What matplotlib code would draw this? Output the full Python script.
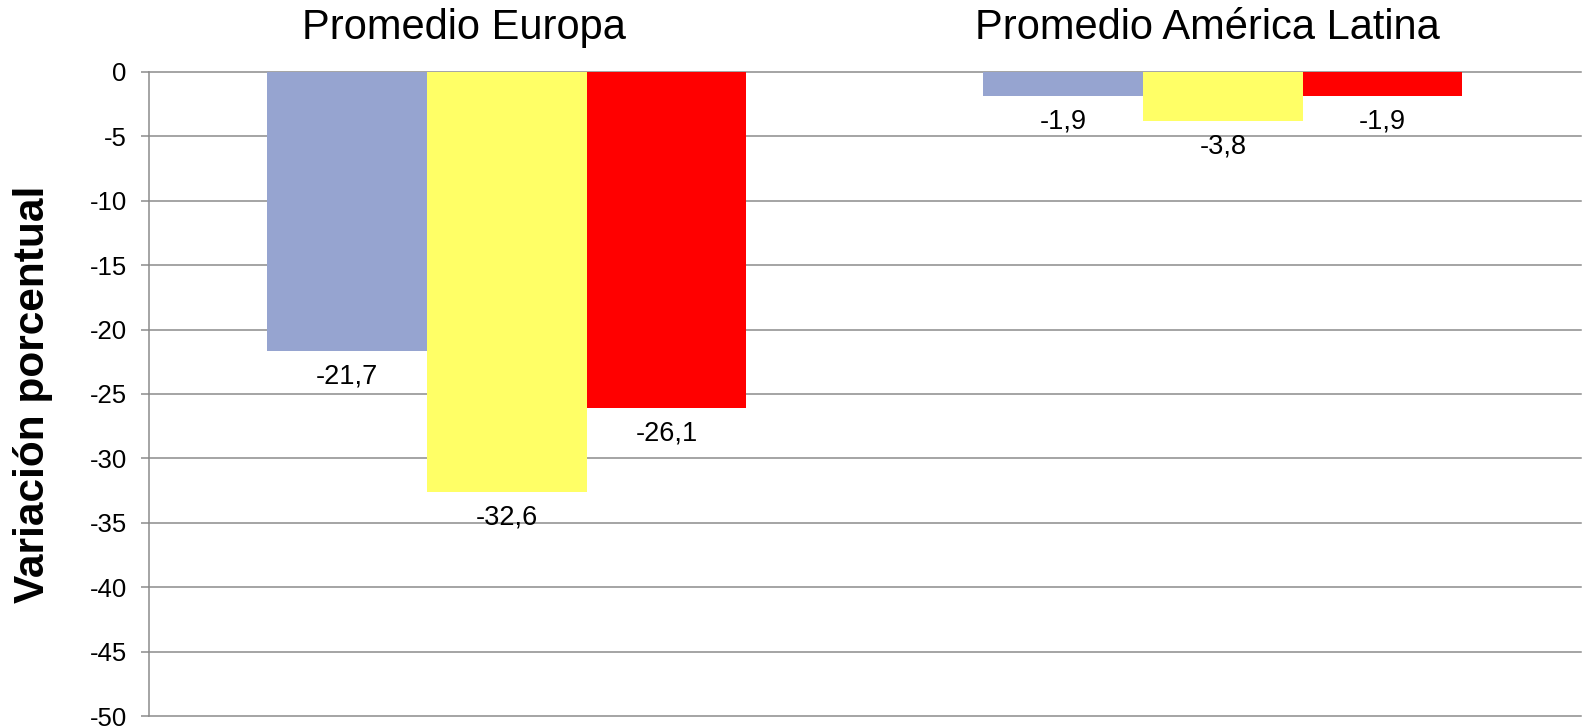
import numpy as np
import matplotlib
matplotlib.use("Agg")
import matplotlib.pyplot as plt
from matplotlib.transforms import ScaledTranslation

plt.rcParams['font.family'] = ['Liberation Sans', 'DejaVu Sans']

# data
categories = ['Promedio Europa', 'Promedio América Latina']
serie_1 = [-21.7, -1.9]
serie_2 = [-32.6, -3.8]
serie_3 = [-26.1, -1.9]
colors = ['#96A4D0', '#FFFF66', '#FF0000']
yticks = [0, -5, -10, -15, -20, -25, -30, -35, -40, -45, -50]

fig = plt.figure(figsize=(15.83, 7.27), dpi=100)
ax = fig.add_axes([0.0941, 0.0151, 0.9046, 0.8859])

x = np.arange(len(categories))
w = 0.223
grid_color = '#8C8C8C'

for i, (vals, c) in enumerate(zip([serie_1, serie_2, serie_3], colors)):
    bars = ax.bar(x + (i - 1) * w, vals, width=w, color=c, zorder=3)
    for b, v in zip(bars, vals):
        ax.annotate(f"{v:.1f}".replace('.', ','),
                    xy=(b.get_x() + b.get_width() / 2, v),
                    xytext=(0, -9), textcoords='offset points',
                    ha='center', va='top', fontsize=19.5, zorder=4)

ax.set_xlim(-0.5, 1.5)
ax.set_ylim(-50, 0)
ax.set_yticks(yticks)
ax.set_yticklabels([str(t) for t in yticks], fontsize=18.5)

ax.xaxis.tick_top()
ax.set_xticks(x)
ax.set_xticklabels(categories, fontsize=30)
ax.tick_params(axis='x', length=0, pad=17)
ax.tick_params(axis='y', length=6, width=1.1, color=grid_color, pad=10)

# the category titles sit a bit left of the group centres in the original
for lab, dx in zip(ax.get_xticklabels(), [-43, -16]):
    lab.set_transform(lab.get_transform() + ScaledTranslation(dx / 100, 0, fig.dpi_scale_trans))

ax.grid(axis='y', color=grid_color, linewidth=1.1, zorder=0)
ax.set_axisbelow(True)
for gl in ax.get_ygridlines():
    gl.set_clip_on(False)

for s in ['top', 'right', 'bottom']:
    ax.spines[s].set_visible(False)
ax.spines['left'].set_color(grid_color)
ax.spines['left'].set_linewidth(1.1)

ax.set_ylabel('Variación porcentual', fontsize=30.5, fontweight='bold', labelpad=26)

fig.savefig('out.png', dpi=100)
